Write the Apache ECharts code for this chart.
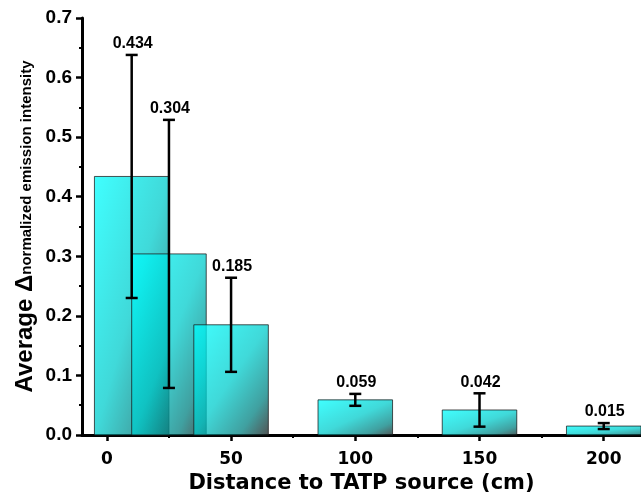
<!DOCTYPE html>
<html>
<head>
<meta charset="utf-8">
<script src="https://cdn.jsdelivr.net/npm/echarts@6/dist/echarts.min.js"></script>
<style>
  html, body { margin: 0; padding: 0; background: #fff; }
  #chart { width: 641px; height: 493px; }
</style>
</head>
<body>
<div id="chart"></div>
<script>
// 距离 (cm)、平均值、误差
var distances = [10, 25, 50, 100, 150, 200]
var averages = [0.434, 0.304, 0.185, 0.059, 0.042, 0.015]
var errors = [0.204, 0.225, 0.079, 0.010, 0.028, 0.005]
var xTicks = [0, 50, 100, 150, 200]
var xMinorTicks = [25, 75, 125, 175]

var barHalf = 15
var font = 'Liberation Sans, Arial, sans-serif'
var wideFont = 'DejaVu Sans, sans-serif'

var barData = distances.map(function (d, i) { return [d, averages[i]] })
var errData = distances.map(function (d, i) { return [d, averages[i], errors[i]] })

// 渐变：左上青色 -> 右下深灰（按柱子自身比例的对角线）
function barFill(w, h) {
    var k = w * w + h * h
    return new echarts.graphic.LinearGradient(0, 0, 2 * h * h / k, 2 * w * w / k, [
        { offset: 0, color: '#00ffff' },
        { offset: 0.5, color: '#00cccc' },
        { offset: 0.8, color: '#008080' },
        { offset: 1, color: '#181818' }
    ])
}

var option = {
    animation: false,
    grid: { left: 82, right: 0, top: 18, bottom: 58, containLabel: false, outerBoundsMode: 'none' },
    xAxis: [
        {
            type: 'value', min: -10, max: 215,
            name: 'Distance to TATP source (cm)',
            nameLocation: 'middle', nameGap: 38,
            nameTextStyle: { fontFamily: wideFont, fontWeight: 'bold', fontSize: 21, color: '#000' },
            axisLine: { show: true, onZero: false, lineStyle: { color: '#000', width: 3 } },
            axisTick: { show: true, customValues: xTicks, length: 6, lineStyle: { color: '#000', width: 2.5 } },
            axisLabel: { customValues: xTicks, fontFamily: wideFont, fontWeight: 'bold', fontSize: 17, color: '#000', margin: 16 },
            splitLine: { show: false }
        },
        {
            type: 'value', min: -10, max: 215, position: 'bottom',
            axisLine: { show: false, onZero: false },
            axisTick: { show: true, customValues: xMinorTicks, length: 3, lineStyle: { color: '#000', width: 2 } },
            axisLabel: { show: false },
            splitLine: { show: false }
        }
    ],
    yAxis: {
        type: 'value', min: 0, max: 0.7, interval: 0.1,
        name: '{a|Average Δ}{b|normalized emission intensity}',
        nameLocation: 'middle', nameGap: 45, nameMoveOverlap: false,
        nameTextStyle: {
            color: '#000',
            rich: {
                a: { fontFamily: font, fontWeight: 'bold', fontSize: 24, color: '#000' },
                b: { fontFamily: font, fontWeight: 'bold', fontSize: 15, color: '#000', padding: [3, 0, 0, 0] }
            }
        },
        axisLine: { show: true, onZero: false, lineStyle: { color: '#000', width: 3 } },
        axisTick: { show: true, length: 6, lineStyle: { color: '#000', width: 2.5 } },
        minorTick: { show: true, splitNumber: 2, length: 3, lineStyle: { color: '#000', width: 2 } },
        axisLabel: {
            fontFamily: font, fontWeight: 'bold', fontSize: 19, color: '#000', margin: 10,
            formatter: function (v) { return v.toFixed(1) }
        },
        splitLine: { show: false }
    },
    series: [
        {
            type: 'custom',
            data: barData,
            renderItem: function (params, api) {
                var x = api.value(0), v = api.value(1)
                var p0 = api.coord([x - barHalf, v])
                var p1 = api.coord([x + barHalf, 0])
                var w = p1[0] - p0[0], h = p1[1] - p0[1]
                return {
                    type: 'rect',
                    shape: { x: p0[0], y: p0[1], width: w, height: h },
                    style: { fill: barFill(w, h), stroke: '#1a1a1a', lineWidth: 1, opacity: 0.75 }
                }
            }
        },
        {
            type: 'custom',
            data: errData,
            z: 5,
            renderItem: function (params, api) {
                var x = api.value(0), v = api.value(1), e = api.value(2)
                var top = api.coord([x, v + e])
                var bot = api.coord([x, v - e])
                var cap = 6
                var ls = { stroke: '#000', lineWidth: 2.5 }
                return {
                    type: 'group',
                    children: [
                        { type: 'line', shape: { x1: top[0], y1: top[1], x2: bot[0], y2: bot[1] }, style: ls },
                        { type: 'line', shape: { x1: top[0] - cap, y1: top[1], x2: top[0] + cap, y2: top[1] }, style: ls },
                        { type: 'line', shape: { x1: bot[0] - cap, y1: bot[1], x2: bot[0] + cap, y2: bot[1] }, style: ls },
                        {
                            type: 'text',
                            style: {
                                text: v.toFixed(3), x: top[0] + 1, y: top[1] - 3,
                                align: 'center', verticalAlign: 'bottom',
                                font: 'bold 16px ' + font, fill: '#000'
                            }
                        }
                    ]
                }
            }
        }
    ]
}

var mychart = echarts.init(document.getElementById('chart'))
option && mychart.setOption(option)
</script>
</body>
</html>
